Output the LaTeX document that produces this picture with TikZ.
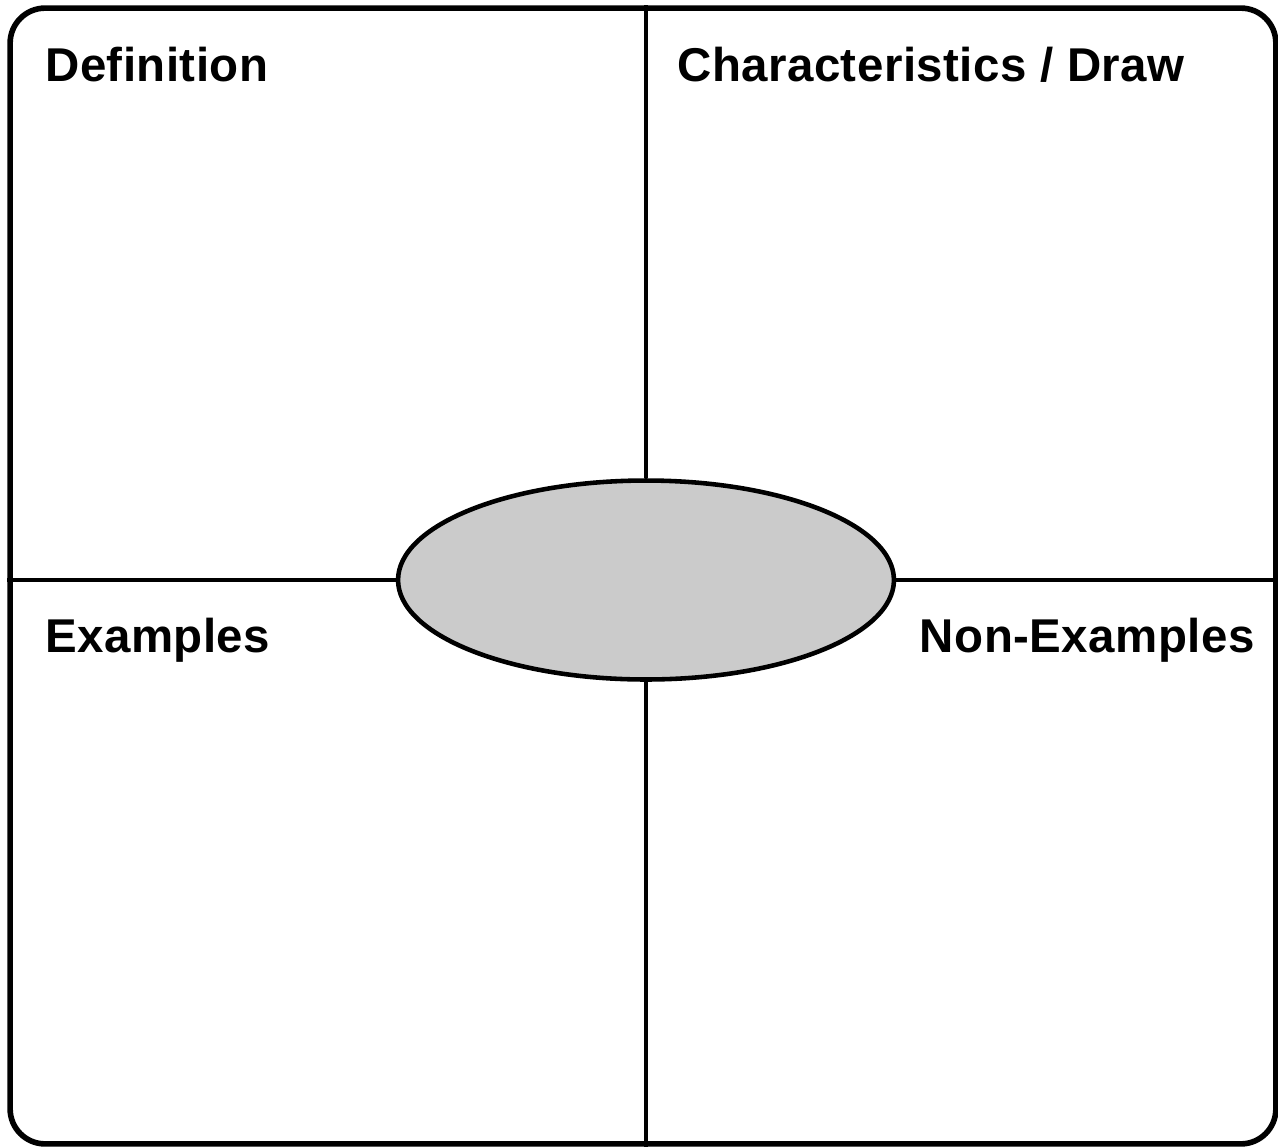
\documentclass[tikz,border=0pt]{standalone}
\usepackage{fontspec}
\setmainfont{Liberation Sans}
\usepackage{tikz}
\usetikzlibrary{shapes.geometric,positioning}
\definecolor{chub}{HTML}{CBCBCB}

\begin{document}
\begin{tikzpicture}[
  x=0.02cm, y=-0.02cm,
  title/.style={font=\fontsize{27}{32}\selectfont\bfseries\addfontfeatures{LetterSpace=1}, inner sep=0pt},
  rule/.style={line width=2.8pt},
]
\useasboundingbox (0,0) rectangle (1278,1147);
% ---- outer frame and centre ----
\node[draw, line width=3.2pt, rounded corners=0.7cm, minimum width=25.32cm,
      minimum height=22.72cm, inner sep=0pt] (frame) at (643,576) {};
\node[ellipse, draw, line width=2.6pt, fill=chub, minimum width=9.92cm,
      minimum height=3.98cm, inner sep=0pt] (hub) at (646,580) {};

% ---- dividers ----
\draw[rule] (frame.north -| hub) -- (hub.north);
\draw[rule] (hub.south) -- (frame.south -| hub);
\draw[rule] (frame.west |- hub) -- (hub.west);
\draw[rule] (hub.east) -- (frame.east |- hub);

% ---- quadrant titles ----
\node[title, anchor=base west] (def) at (45,81) {Definition};
\node[title, anchor=base west] (chr) at (677,81) {Characteristics / Draw};
\node[title, anchor=base west] (exa) at (45,652) {Examples};
\node[title, anchor=base east] (non) at (1255,652) {Non-Examples};
\end{tikzpicture}
\end{document}
